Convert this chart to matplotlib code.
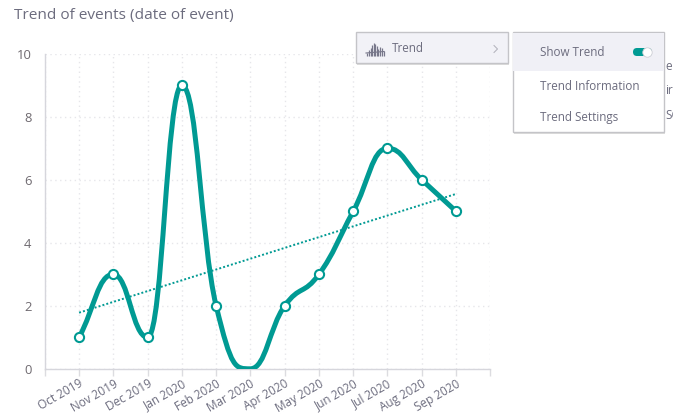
import numpy as np
import matplotlib
matplotlib.use("Agg")
import matplotlib.pyplot as plt
from matplotlib.path import Path
from matplotlib.patches import PathPatch, Rectangle, FancyBboxPatch

plt.rcParams['font.family'] = ['Open Sans', 'DejaVu Sans']

months = ['Oct 2019', 'Nov 2019', 'Dec 2019', 'Jan 2020', 'Feb 2020', 'Mar 2020',
          'Apr 2020', 'May 2020', 'Jun 2020', 'Jul 2020', 'Aug 2020', 'Sep 2020']
events = [1, 3, 1, 9, 2, 0, 2, 3, 5, 7, 6, 5]
y_ticks = [0, 2, 4, 6, 8, 10]
menu_items = ['Show Trend', 'Trend Information', 'Trend Settings']
hidden_legend = ['e', 'ir', 'SC']

TEAL = '#009a93'
TEXT = '#6c6c7e'
W, H = 673, 419

fig = plt.figure(figsize=(W / 100, H / 100), dpi=100)
ax = fig.add_axes([44.8 / W, 1 - 368.8 / H, 445.5 / W, 315 / H])

x = np.arange(len(events))
y = np.array(events, dtype=float)

# spline handles, flat on the local peaks and dips
slope = np.zeros(len(y))
for i in range(1, len(y) - 1):
    if (y[i] - y[i - 1]) * (y[i + 1] - y[i]) > 0:
        slope[i] = (y[i + 1] - y[i - 1]) / 2
slope[0] = y[1] - y[0]
slope[-1] = y[-1] - y[-2]
verts = [(x[0], y[0])]
codes = [Path.MOVETO]
for i in range(len(y) - 1):
    verts += [(x[i] + 0.45, y[i] + 0.45 * slope[i]),
              (x[i + 1] - 0.45, y[i + 1] - 0.45 * slope[i + 1]),
              (x[i + 1], y[i + 1])]
    codes += [Path.CURVE4] * 3
ax.add_patch(PathPatch(Path(verts, codes), fill=False, edgecolor=TEAL, lw=3.6,
                       zorder=3, capstyle='round', clip_on=True))

# trend line is the least squares fit
fit = np.polyfit(x, y, 1)
ax.plot(x, np.polyval(fit, x), color=TEAL, lw=1.4, ls=(0, (1, 1.1)), zorder=2)

shown = y > 0
ax.plot(x[shown], y[shown], ls='none', marker='o', ms=6.6, mfc='white', mec=TEAL, mew=1.5, zorder=4)

ax.set_xlim(-1, 12)
ax.set_ylim(0, 10)
ax.set_yticks(y_ticks)
ax.set_xticks(np.arange(-1, 13))
ax.set_xticklabels([''] + months + [''], rotation=30, ha='right', rotation_mode='anchor',
                   fontsize=8.5, color=TEXT)
ax.tick_params(axis='y', length=0, pad=9.5, labelsize=9.4, labelcolor='#6f6a70')
ax.tick_params(axis='x', length=5, width=1, color='#dcdce0', pad=1)
ax.grid(True, color='#e6e6ea', lw=1, ls=(0, (1, 2.5)))
ax.set_axisbelow(True)
for s in ['top', 'right']:
    ax.spines[s].set_visible(False)
for s in ['left', 'bottom']:
    ax.spines[s].set_color('#d6d6dc')
    ax.spines[s].set_linewidth(1)

# overlay in pixel coordinates for the title and the popup menus
ui = fig.add_axes([0, 0, 1, 1], facecolor='none')
ui.set_xlim(0, W)
ui.set_ylim(H, 0)
ui.axis('off')

ui.text(14, 16, 'Trend of events (date of event)', fontsize=11.1, color=TEXT, va='center')

for label, py in zip(hidden_legend, [67, 91, 115]):
    ui.text(665, py, label, fontsize=8.5, color=TEXT, va='center', zorder=1)


def menu(px, py, w, h, face):
    ui.add_patch(Rectangle((px + 1, py + 2), w, h, fc='#00000022', ec='none', zorder=4))
    ui.add_patch(Rectangle((px, py), w, h, fc=face, ec='#c4c4c8', lw=1, zorder=5))


menu(356, 32.5, 151.5, 30.5, '#f2f2f7')
menu(512.8, 32.5, 151.5, 99.5, 'white')
ui.add_patch(Rectangle((513.3, 33), 150.5, 38, fc='#f0f0f6', ec='none', zorder=6))

ui.text(392, 49, 'Trend', fontsize=8.4, color=TEXT, va='center', zorder=7)
ui.plot([494, 497.5, 494], [45.5, 49, 52.5], color='#b0b0ba', lw=0.7, zorder=7)

# little histogram icon
icon_x = [367, 369, 370.5, 372, 373.5, 375, 376.5, 378, 380, 382, 384]
icon_top = [53, 50, 48, 45, 43, 44, 46, 49, 47, 48, 51]
ui.vlines(icon_x, icon_top, 56, color='#77778a', lw=0.9, zorder=7)
ui.plot([366, 384], [53, 51.5], color='#77778a', lw=0.8, zorder=7)

for label, py in zip(menu_items, [53, 87, 117]):
    ui.text(540, py, label, fontsize=8.4, color=TEXT, va='center', zorder=7)

# toggle
ui.add_patch(FancyBboxPatch((633, 48), 19, 8, boxstyle='round,pad=0,rounding_size=4',
                            fc=TEAL, ec='none', mutation_aspect=1, zorder=7))
ui.plot([647], [52], marker='o', ms=6.8, mfc='white', mec='#cfcfd6', mew=0.6, zorder=8)

fig.savefig('out.png', dpi=100)
